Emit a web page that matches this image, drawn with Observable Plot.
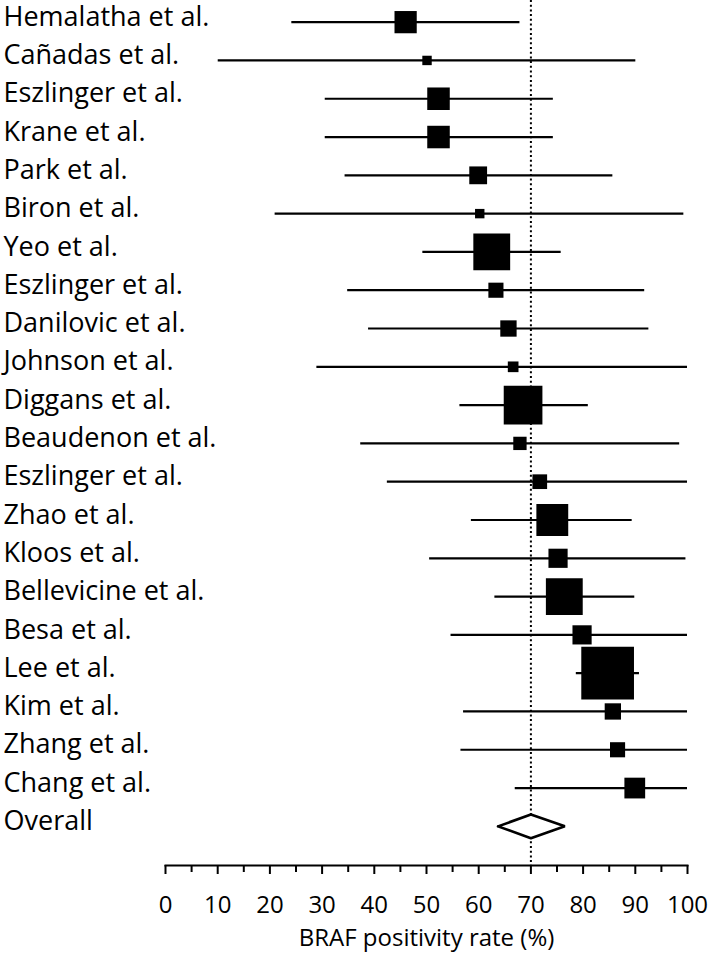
<!DOCTYPE html>
<html>
<head>
<meta charset="utf-8">
<script src="https://cdn.jsdelivr.net/npm/d3@7"></script>
<script src="https://cdn.jsdelivr.net/npm/@observablehq/plot@0.6"></script>
<style>
  html, body { margin: 0; padding: 0; background: #fff; }
  #chart svg { display: block; }
</style>
</head>
<body>
<div id="chart"></div>
<script>
const names = ["Hemalatha et al.","Cañadas et al.","Eszlinger et al.","Krane et al.","Park et al.","Biron et al.","Yeo et al.","Eszlinger et al.","Danilovic et al.","Johnson et al.","Diggans et al.","Beaudenon et al.","Eszlinger et al.","Zhao et al.","Kloos et al.","Bellevicine et al.","Besa et al.","Lee et al.","Kim et al.","Zhang et al.","Chang et al."];
const rates = [46.0, 50.1, 52.3, 52.3, 59.9, 60.2, 62.5, 63.3, 65.7, 66.6, 68.5, 67.9, 71.7, 74.1, 75.2, 76.4, 79.8, 84.7, 85.7, 86.6, 89.9];
const lower = [24.2, 10.1, 30.6, 30.6, 34.4, 21.0, 49.3, 34.9, 38.9, 29.0, 56.4, 37.4, 42.5, 58.6, 50.6, 63.1, 54.7, 78.7, 57.1, 56.6, 67.0];
const upper = [67.9, 90.1, 74.3, 74.3, 85.7, 99.3, 75.8, 91.8, 92.6, 100, 81.0, 98.5, 100, 89.4, 99.7, 89.9, 100, 90.8, 100, 100, 100];
const weights = [3.9, 0.7, 4.0, 4.0, 2.5, 0.7, 10.7, 1.8, 2.1, 0.9, 11.8, 1.4, 1.7, 8.0, 2.9, 10.7, 2.9, 21.9, 2.1, 1.8, 3.4];
const overallLabel = "Overall";
const overallRate = 70.0;
const overallLower = 63.7;
const overallUpper = 76.5;
const majorTicks = [0, 10, 20, 30, 40, 50, 60, 70, 80, 90, 100];
const minorTicks = [5, 15, 25, 35, 45, 55, 65, 75, 85, 95];
const xLabel = "BRAF positivity rate (%)";

const studies = names.map((name, i) => ({name, i, rate: rates[i], lo: lower[i], hi: upper[i], w: weights[i]}));
const nRows = studies.length + 1;
const oi = studies.length;
const labels = [...names, overallLabel].map((t, i) => ({t, i}));
const dh = 0.31;
const diamond = [
  {x: overallLower, y: oi},
  {x: overallRate, y: oi - dh},
  {x: overallUpper, y: oi},
  {x: overallRate, y: oi + dh},
  {x: overallLower, y: oi}
];

const FONT = "'Open Sans', Lato, sans-serif";

const chart = Plot.plot({
  width: 709,
  height: 958,
  marginLeft: 165,
  marginRight: 22,
  marginTop: 0,
  marginBottom: 93,
  style: {fontFamily: FONT, fontSize: "24px", color: "#000", background: "#fff"},
  x: {domain: [0, 100]},
  y: {domain: [-0.5, nRows - 0.5], range: [2.5, 845], axis: null},
  r: {type: "sqrt", domain: [0, d3.max(weights)], range: [0, 52.7 / Math.sqrt(Math.PI)]},
  marks: [
    Plot.ruleX([overallRate], {stroke: "#000", strokeWidth: 2, strokeDasharray: "2,2.7"}),
    Plot.ruleY(studies, {y: "i", x1: "lo", x2: "hi", stroke: "#000", strokeWidth: 2.2}),
    Plot.dot(studies, {x: "rate", y: "i", r: "w", symbol: "square", fill: "#000", stroke: null}),
    Plot.line(diamond, {x: "x", y: "y", fill: "#fff", stroke: "#000", strokeWidth: 2.6, strokeLinejoin: "miter"}),
    Plot.text(labels, {y: "i", text: "t", frameAnchor: "left", textAnchor: "start", dx: -162, dy: -5, fontSize: 27, fill: "#000"}),
    Plot.frame({anchor: "bottom", stroke: "#000", strokeWidth: 2}),
    Plot.axisX({ticks: majorTicks, tickSize: 9, tickPadding: 21, fontSize: 24, strokeWidth: 2, label: xLabel, labelAnchor: "center", labelOffset: 80, labelArrow: "none"}),
    Plot.axisX({ticks: minorTicks, tickSize: 7, tickFormat: () => "", strokeWidth: 2, label: null})
  ]
});
document.getElementById("chart").appendChild(chart);
</script>
</body>
</html>
